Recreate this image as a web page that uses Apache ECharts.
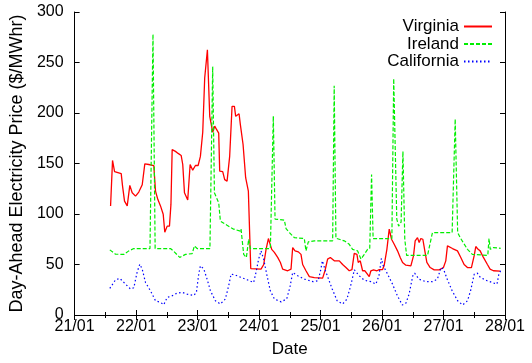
<!DOCTYPE html>
<html>
<head>
<meta charset="utf-8">
<script src="https://cdn.jsdelivr.net/npm/echarts@6/dist/echarts.min.js"></script>
<style>
html,body{margin:0;padding:0;background:#fff;}
#chart{width:532px;height:363px;}
</style>
</head>
<body>
<div id="chart"></div>
<script>
// x values are days of January (e.g. 22.5 = 22/01 12:00)
var xTicks = [21, 22, 23, 24, 25, 26, 27, 28];
var yTicks = [0, 50, 100, 150, 200, 250, 300];
var seriesNames = ['Virginia', 'Ireland', 'California'];

var virginia = [
[21.585,108],[21.617,153],[21.650,142],[21.758,140],[21.780,127.6],[21.812,112.8],[21.856,108],[21.898,128.3],[21.937,121],[21.991,117.7],
[22.044,121.7],[22.100,129],[22.142,149.7],[22.207,149],[22.288,148],[22.316,122.7],[22.353,114.5],[22.397,108],[22.441,99.7],[22.467,82],
[22.506,88],[22.543,88],[22.567,109.5],[22.587,163.8],[22.640,162],[22.684,160],[22.733,158],[22.759,149],[22.787,121],[22.811,121],
[22.840,113.8],[22.879,149],[22.921,143.4],[22.965,148],[23.009,148],[23.046,157],[23.084,181],[23.116,234.6],[23.139,236],[23.160,262.5],
[23.181,261],[23.198,196.7],[23.225,195],[23.246,181],[23.279,187],[23.306,184],[23.344,180],[23.360,142.4],[23.409,142],[23.441,134],
[23.480,132.6],[23.522,157],[23.561,206.6],[23.599,206.6],[23.620,196.7],[23.652,197],[23.675,199.3],[23.696,188.5],[23.717,188],[23.740,168.8],
[23.769,168],[23.782,135.9],[23.805,135],[23.826,122.7],[23.842,122],[23.865,46],[24.032,45.4],[24.076,50],[24.114,65],[24.152,75.7],
[24.184,75.7],[24.206,65],[24.249,62],[24.303,57],[24.347,52],[24.384,45.4],[24.466,43.8],[24.520,45.4],[24.547,66.8],[24.585,63.5],
[24.639,62.5],[24.682,60],[24.709,50],[24.763,43.8],[24.818,38],[24.899,37],[25.034,36.5],[25.072,43.8],[25.115,55.3],[25.159,57],
[25.224,53.6],[25.305,53.6],[25.359,50],[25.413,47],[25.467,43.8],[25.511,45],[25.548,61],[25.592,60],[25.613,52],[25.646,53.6],
[25.684,43.8],[25.722,43.8],[25.754,45],[25.792,38],[25.819,43.8],[25.862,44.7],[25.917,43.8],[25.955,45],[26.009,45],[26.036,49.3],
[26.079,65],[26.117,85],[26.155,75],[26.198,70],[26.252,63.5],[26.296,57],[26.334,52],[26.388,49.3],[26.469,48.7],[26.512,58.5],
[26.539,73.4],[26.577,76.6],[26.604,71.7],[26.631,75.7],[26.664,75],[26.696,63.5],[26.729,52],[26.783,47],[26.848,44.7],[26.929,44.7],
[26.999,47],[27.037,53.6],[27.064,68.4],[27.146,65.8],[27.227,63.5],[27.281,57],[27.335,50],[27.389,47],[27.454,47],[27.498,58.5],
[27.525,67.8],[27.563,65],[27.596,63.5],[27.649,57],[27.714,50],[27.757,45.4],[27.812,43.8],[27.920,43.5]
];

var ireland = [
[21.573,64.5],[21.666,60.2],[21.801,60],[21.882,63.5],[21.963,65.8],[22.226,65.8],[22.275,278],[22.31,65.8],[22.559,65.8],[22.613,63],
[22.71,57],[22.803,60],[22.912,60.8],[22.949,68.4],[22.993,65.8],[23.201,65.8],[23.246,246],[23.274,121],[23.344,111],[23.371,93],
[23.48,88.8],[23.587,85],[23.696,83],[23.707,85],[23.75,60],[23.794,57],[23.831,75],[23.859,65.8],[24.184,65.8],[24.232,197],
[24.26,95],[24.303,94.7],[24.411,94],[24.439,85.5],[24.493,81.6],[24.574,76.6],[24.736,75.7],[24.763,63.5],[24.801,72.4],[24.899,73.4],
[25.197,73.4],[25.222,227],[25.25,76],[25.278,75],[25.386,73.4],[25.467,70],[25.521,65],[25.603,63.5],[25.657,55.3],[25.711,60],
[25.765,65],[25.80,66],[25.83,139],[25.855,75.7],[26.16,75.7],[26.19,234],[26.24,95],[26.27,88],[26.31,92],[26.34,162],
[26.37,75],[26.40,59],[26.74,59],[26.82,81.6],[27.14,81.6],[27.19,194],[27.23,81.6],[27.28,75.7],[27.39,65],[27.47,60],
[27.72,59],[27.74,75.7],[27.76,65],[27.81,66.8],[27.93,66]
];

var california = [
[21.573,26.3],[21.666,34.9],[21.736,36.2],[21.828,30.6],[21.910,25.7],[21.963,27],[22.018,42.7],[22.061,50.3],[22.100,45.4],[22.153,32.2],
[22.234,24],[22.316,14.1],[22.397,12.5],[22.450,10.2],[22.506,17.4],[22.587,19],[22.668,21.7],[22.749,22.4],[22.830,20.7],[22.938,19.4],
[22.981,22.4],[23.019,40.5],[23.046,48.7],[23.100,45.7],[23.155,35.5],[23.209,24],[23.290,14.1],[23.371,10.9],[23.452,15.8],[23.506,28.9],
[23.545,40.5],[23.615,39.5],[23.696,37.5],[23.805,34.9],[23.912,32.2],[23.956,43.7],[23.993,55.3],[24.032,63.5],[24.075,55.3],[24.130,38.8],
[24.183,24],[24.25,15.8],[24.36,13],[24.45,16],[24.50,27],[24.547,42],[24.63,38.8],[24.74,35.5],[24.88,33],[24.96,33.9],
[25.00,43.8],[25.03,53.6],[25.08,43.8],[25.13,35.5],[25.19,25.7],[25.27,14.1],[25.36,10.9],[25.43,15.8],[25.49,29],[25.55,44.7],
[25.58,45],[25.63,38.8],[25.71,34.5],[25.82,33],[25.90,30.6],[25.95,38.8],[25.99,56],[26.02,48.7],[26.09,40.5],[26.17,30.6],
[26.25,19],[26.33,9.9],[26.39,11.8],[26.44,20.7],[26.50,38.8],[26.53,41.4],[26.60,35.5],[26.71,33],[26.82,33],[26.90,35.5],
[26.96,47],[27.00,45.4],[27.06,35.5],[27.14,24],[27.23,14.1],[27.31,9.9],[27.39,14.1],[27.44,24],[27.50,40.5],[27.55,41.4],
[27.60,37.2],[27.71,33.9],[27.82,31.6],[27.87,30.6],[27.90,40.5],[27.93,43.8]
];

var FONT = 'Liberation Sans, Arial, Helvetica, sans-serif';
var chart = echarts.init(document.getElementById('chart'), null, {renderer: 'canvas'});

function xFmt(v) { return String(Math.round(v)) + '/01'; }

var axisLineStyle = {show: true, lineStyle: {color: '#000', width: 1}};
var legendBase = {
  orient: 'vertical', align: 'right', right: 39, itemWidth: 28, itemHeight: 10, itemGap: 4,
  itemStyle: {opacity: 0},
  textStyle: {fontFamily: FONT, fontSize: 17, color: '#000'}, padding: 0
};

chart.setOption({
  animation: false,
  backgroundColor: '#fff',
  grid: {left: 74, right: 27, top: 12, bottom: 47, containLabel: false},
  legend: [
    Object.assign({}, legendBase, {data: [seriesNames[0]], top: 18}),
    Object.assign({}, legendBase, {data: [seriesNames[1]], top: 35.5}),
    Object.assign({}, legendBase, {data: [seriesNames[2]], top: 53})
  ],
  xAxis: [{
    type: 'value', min: xTicks[0], max: xTicks[xTicks.length - 1], interval: 1,
    position: 'bottom',
    name: 'Date', nameLocation: 'middle', nameGap: 26,
    nameTextStyle: {fontFamily: FONT, fontSize: 17, color: '#000'},
    axisLine: axisLineStyle,
    axisTick: {show: true, inside: true, length: 5, lineStyle: {color: '#000'}},
    minorTick: {show: true, splitNumber: 2, length: 3, lineStyle: {color: '#000'}},
    axisLabel: {fontFamily: FONT, fontSize: 16, color: '#000', margin: 4, formatter: xFmt, showMinLabel: true, showMaxLabel: true},
    splitLine: {show: false}
  }, {
    type: 'value', min: xTicks[0], max: xTicks[xTicks.length - 1], interval: 1,
    position: 'top',
    axisLine: axisLineStyle,
    axisTick: {show: true, inside: true, length: 5, lineStyle: {color: '#000'}},
    minorTick: {show: true, splitNumber: 2, length: 3, lineStyle: {color: '#000'}},
    axisLabel: {show: false},
    splitLine: {show: false}
  }],
  yAxis: [{
    type: 'value', min: yTicks[0], max: yTicks[yTicks.length - 1], interval: 50,
    position: 'left',
    name: 'Day-Ahead Electricity Price ($/MWhr)', nameLocation: 'middle', nameGap: 46, nameRotate: 90,
    nameTextStyle: {fontFamily: FONT, fontSize: 18, color: '#000'},
    axisLine: axisLineStyle,
    axisTick: {show: true, inside: true, length: 5, lineStyle: {color: '#000'}},
    axisLabel: {fontFamily: FONT, fontSize: 16, color: '#000', margin: 11},
    splitLine: {show: false}
  }, {
    type: 'value', min: yTicks[0], max: yTicks[yTicks.length - 1], interval: 50,
    position: 'right',
    axisLine: axisLineStyle,
    axisTick: {show: true, inside: true, length: 5, lineStyle: {color: '#000'}},
    axisLabel: {show: false},
    splitLine: {show: false}
  }],
  series: [{
    name: seriesNames[0], type: 'line', data: virginia, showSymbol: false, symbol: 'none',
    lineStyle: {color: '#ff0000', width: 1.3}, itemStyle: {color: '#ff0000'}
  }, {
    name: seriesNames[1], type: 'line', data: ireland, showSymbol: false, symbol: 'none',
    lineStyle: {color: '#00ee00', width: 1.2, type: [4, 2]}, itemStyle: {color: '#00ee00'}
  }, {
    name: seriesNames[2], type: 'line', data: california, showSymbol: false, symbol: 'none',
    lineStyle: {color: '#0000ff', width: 1.2, type: [1.5, 2.5]}, itemStyle: {color: '#0000ff'}
  }]
});
</script>
</body>
</html>
